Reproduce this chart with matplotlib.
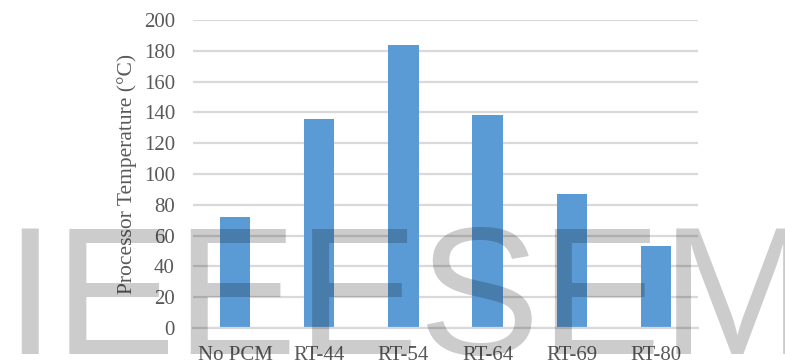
import matplotlib
matplotlib.use("Agg")
import matplotlib.pyplot as plt

categories = ["No PCM", "RT-44", "RT-54", "RT-64", "RT-69", "RT-80"]
temps = [72, 136, 184, 138, 87, 53]
yticks = list(range(0, 201, 20))
watermark = "IEEESEM"

plt.rcParams["font.family"] = ["Liberation Serif", "DejaVu Serif"]

fig = plt.figure(figsize=(7.85, 3.64), dpi=100)
ax = fig.add_axes([193 / 785, 36 / 364, 505 / 785, 308 / 364])

x = range(len(categories))
ax.bar(x, temps, width=0.36, color="#5b9bd5", zorder=2)

ax.set_xlim(-0.5, len(categories) - 0.5)
ax.set_ylim(0, 200)
ax.set_yticks(yticks)
ax.set_xticks(list(x))
ax.set_xticklabels(categories)
ax.yaxis.grid(True, color="#d9d9d9", linewidth=1.6, zorder=0)
ax.set_axisbelow(True)
for s in ["top", "right", "left"]:
    ax.spines[s].set_visible(False)
ax.spines["bottom"].set_color("#d9d9d9")
ax.spines["bottom"].set_linewidth(1.6)
ax.tick_params(axis="both", length=0, labelsize=15, colors="#595959")
ax.tick_params(axis="y", pad=13)
ax.tick_params(axis="x", pad=13)
ax.set_ylabel("Processor Temperature (°C)", fontsize=15.5, color="#595959", labelpad=5)

# watermark over the chart
fig.text(4 / 785, 10 / 364, watermark, fontsize=131, family="Liberation Sans",
         color="black", alpha=0.2, ha="left", va="baseline", zorder=10)

fig.savefig("out.png", dpi=100)
